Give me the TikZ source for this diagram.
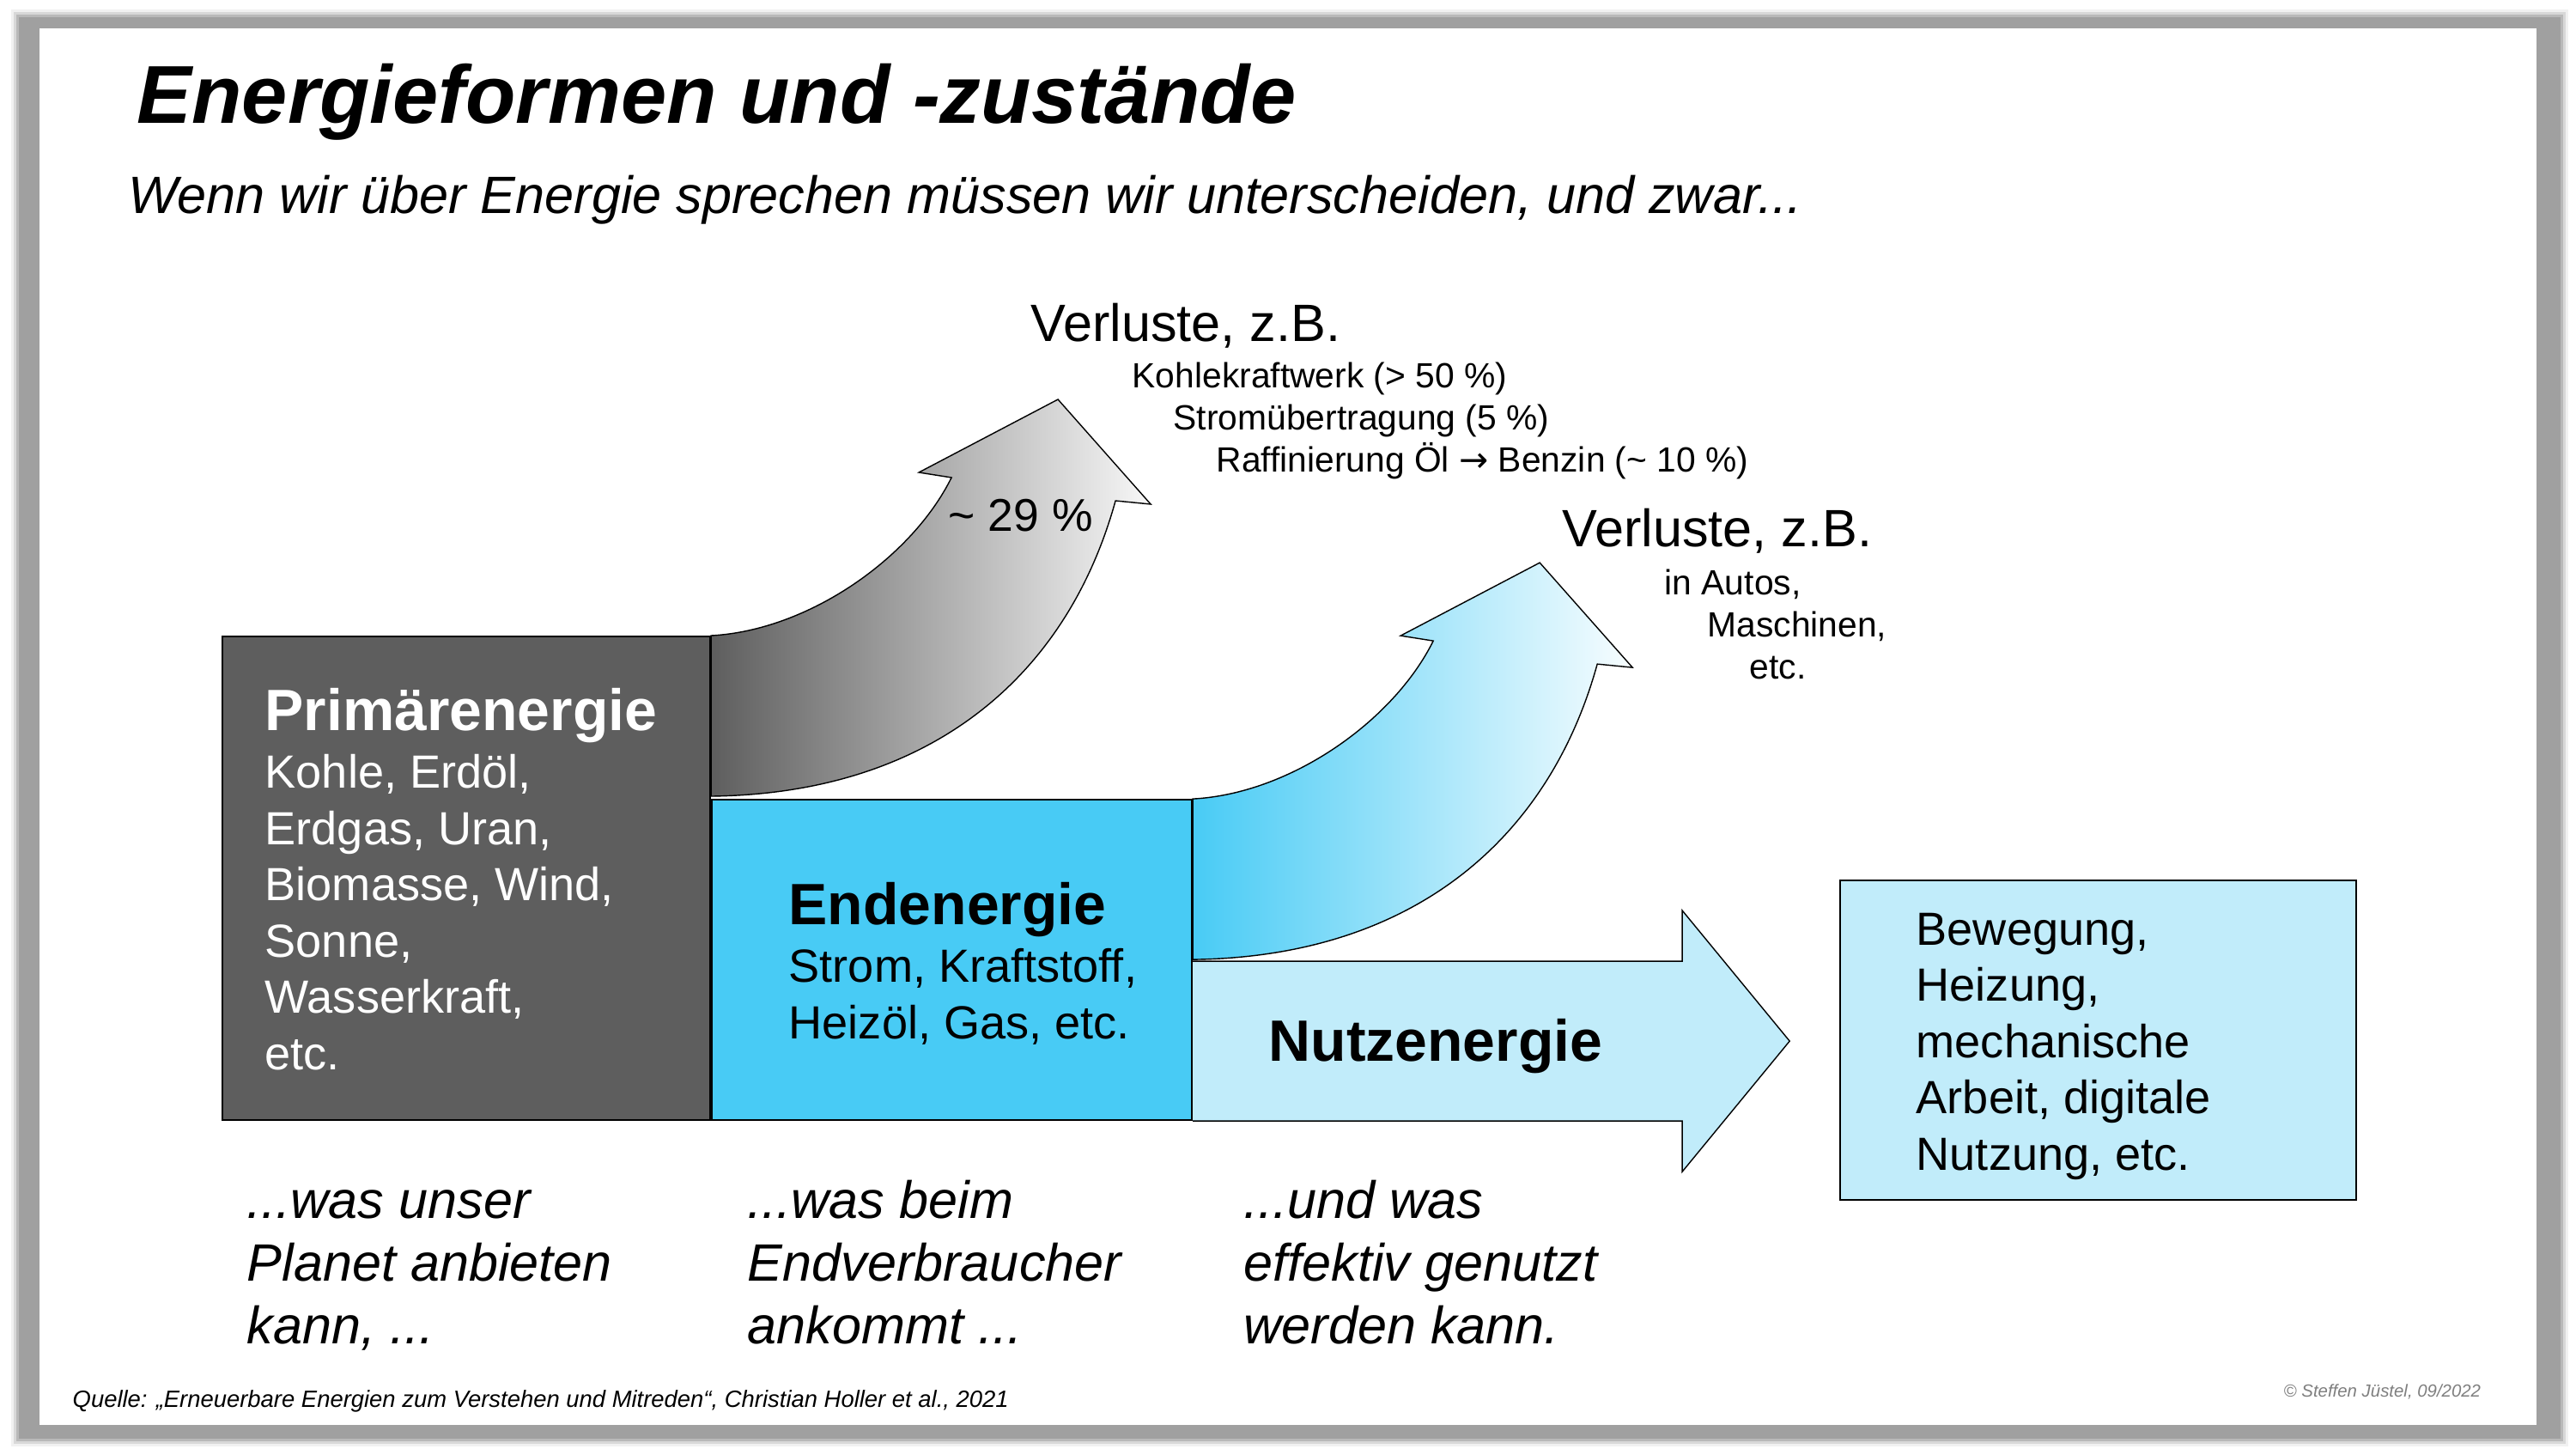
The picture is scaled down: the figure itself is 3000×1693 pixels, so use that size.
\documentclass[tikz,border=0pt]{standalone}
\usepackage{fontspec}
\setmainfont{Liberation Sans}
\newfontfamily\arrowfont{DejaVu Sans}
\usepackage{tikz}
\usetikzlibrary{positioning,calc}
\definecolor{PrimGray}{HTML}{5E5E5E}
\definecolor{EndBlue}{HTML}{48CBF5}
\definecolor{UseBlue}{HTML}{C1ECFA}
\definecolor{FrameGray}{HTML}{A0A0A0}
\definecolor{NoteGray}{HTML}{7F7F7F}

\begin{document}
\begin{tikzpicture}[x=0.01cm, y=-0.01cm,
    every node/.style={inner sep=0pt, text=black},
    bx/.style={draw=black, line width=0.5pt},
    hd/.style={anchor=base west, font=\fontsize{19.3}{23}\selectfont\bfseries},
    body/.style={anchor=base west, align=left, font=\fontsize{15.4}{18.6}\selectfont},
    note/.style={anchor=base west, align=left, font=\fontsize{17.4}{20.7}\selectfont\itshape},
    loss/.style={anchor=base west, font=\fontsize{17.4}{21}\selectfont},
    lossex/.style={anchor=base west, align=left, font=\fontsize{11.6}{13.9}\selectfont},
    bendar/.style={draw=black, line width=0.4pt}]
  \useasboundingbox (0,0) rectangle (3000,1693);
  % slide with its frame
  \foreach \d/\o in {9/0.15,6/0.3,3/0.55}
    \fill[FrameGray, opacity=\o] (22-\d,20-\d) rectangle (2982+\d,1675+\d);
  \fill[FrameGray] (22,20) rectangle (2982,1675);
  \fill[white] (46,33) rectangle (2954,1659);

  \node[anchor=base west, font=\fontsize{27.2}{32}\selectfont\bfseries\itshape]
    (title) at (159,143) {Energieformen und -zustände};
  \node[anchor=base west, font=\fontsize{17.4}{21}\selectfont\itshape]
    (sub) at (149,248) {Wenn wir über Energie sprechen müssen wir unterscheiden, und zwar...};

  % the three energy stages
  \node[bx, fill=PrimGray, anchor=north west, minimum width=5.68cm, minimum height=5.63cm]
    (prim) at (258,740) {};
  \node[bx, fill=EndBlue, anchor=south west, minimum width=5.59cm, minimum height=3.73cm]
    (endbox) at (prim.south east) {};
  \draw[bendar, left color=PrimGray, right color=gray!6, shift={(prim.north east)}]
    (0,0) .. controls (114,-6) and (234,-91) .. (280,-184) -- (242,-190) -- (404,-275)
    -- (512,-153) -- (471,-157) .. controls (414,49) and (254,184) .. (0,187) -- cycle;
  \draw[bendar, left color=EndBlue, right color=EndBlue!4, shift={(endbox.north east)}]
    (0,0) .. controls (114,-6) and (234,-91) .. (280,-184) -- (242,-190) -- (404,-275)
    -- (512,-153) -- (471,-157) .. controls (414,49) and (254,184) .. (0,187) -- cycle;
  \draw[bendar, fill=UseBlue, shift={(endbox.south east)}]
    (0,-186) -- (570,-186) -- (570,-245) -- (695,-93) -- (570,59) -- (570,0) -- (0,0);
  \node[bx, fill=UseBlue, minimum width=6.01cm, minimum height=3.72cm]
    (usebox) at (2443.5,1211) {};

  % base of a multi-line node = its last line
  \node[hd, text=white] (primhd) at (308,850) {Primärenergie};
  \node[body, text=white] (primtxt) at (308,1245)
    {Kohle, Erdöl,\\Erdgas, Uran,\\Biomasse, Wind,\\Sonne,\\Wasserkraft,\\etc.};
  \node[hd] (endhd) at (918,1076) {Endenergie};
  \node[body] (endtxt) at (918,1209) {Strom, Kraftstoff,\\Heizöl, Gas, etc.};
  \node[hd] (nutz) at (1477,1235) {Nutzenergie};
  \node[body] (usetxt) at (2231,1362)
    {Bewegung,\\Heizung,\\mechanische\\Arbeit, digitale\\Nutzung, etc.};

  % losses
  \node[anchor=base west, font=\fontsize{15.2}{18}\selectfont] (pct) at (1104,618)
    {\textasciitilde{} 29 \%};
  \node[loss] (loss1) at (1200,397) {Verluste, z.B.};
  \node[lossex] (loss1txt) at (1318,549)
    {Kohlekraftwerk (> 50 \%)\\
     \hspace*{0.48cm}Stromübertragung (5 \%)\\
     \hspace*{0.98cm}Raffinierung Öl {\arrowfont →} Benzin (\textasciitilde{} 10 \%)};
  \node[loss] (loss2) at (1819,636) {Verluste, z.B.};
  \node[lossex] (loss2txt) at (1938,790)
    {in Autos,\\\hspace*{0.5cm}Maschinen,\\\hspace*{0.99cm}etc.};

  % what each stage means
  \node[note] (n1) at (287,1564) {...was unser\\Planet anbieten\\kann, ...};
  \node[note] (n2) at (870,1564) {...was beim\\Endverbraucher\\ankommt ...};
  \node[note] (n3) at (1448,1564) {...und was\\effektiv genutzt\\werden kann.};

  \node[anchor=base west, font=\fontsize{7.8}{9}\selectfont\itshape] (src) at (84,1638)
    {Quelle: „Erneuerbare Energien zum Verstehen und Mitreden“, Christian Holler et al., 2021};
  \node[anchor=base west, text=NoteGray, font=\fontsize{5.8}{7}\selectfont\itshape]
    (copy) at (2659,1626) {© Steffen Jüstel, 09/2022};
\end{tikzpicture}
\end{document}
